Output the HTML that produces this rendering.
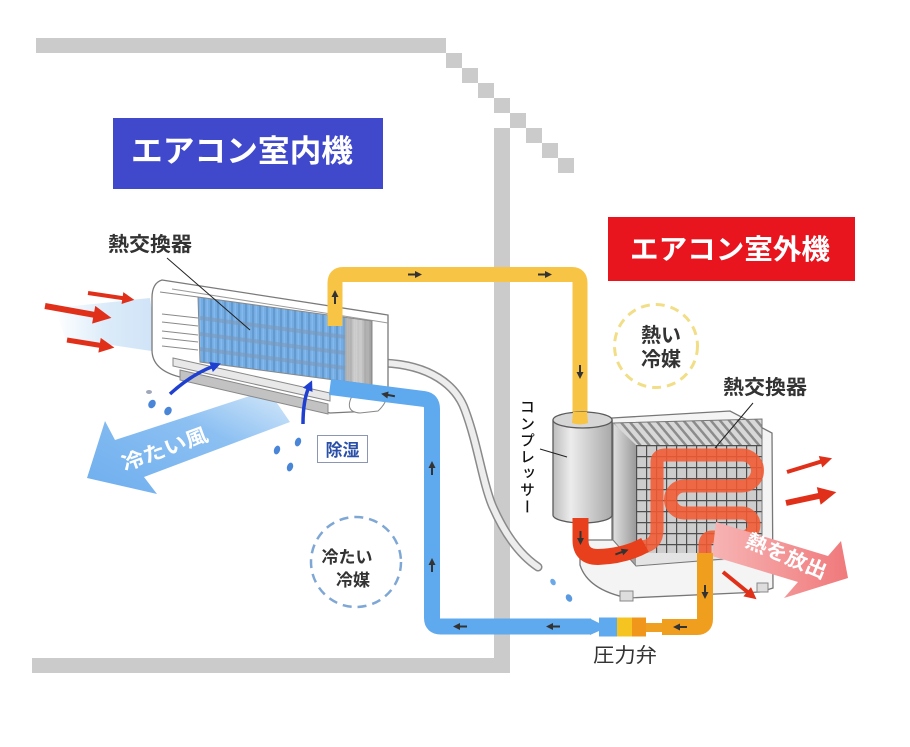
<!DOCTYPE html>
<html><head><meta charset="utf-8">
<style>
html,body{margin:0;padding:0;background:#fff;}
#wrap{position:relative;width:910px;height:747px;overflow:hidden;background:#fff;font-family:"Liberation Sans","Noto Sans CJK JP",sans-serif;}
svg{position:absolute;left:0;top:0;}
.vt{position:absolute;left:518px;top:399px;writing-mode:vertical-rl;font-size:15px;letter-spacing:1.6px;color:#111;font-weight:500;font-family:"Liberation Sans","Noto Sans CJK JP",sans-serif;line-height:16px;}
</style></head><body>
<div id="wrap">
<svg width="910" height="747" viewBox="0 0 910 747" font-family="Liberation Sans, Noto Sans CJK JP, sans-serif">
<defs>
  <g id="pa"><path d="M-7,0 H2" stroke="#333" stroke-width="2"/><path d="M0,-3.5 L7,0 L0,3.5Z" fill="#333"/></g>
  <marker id="rh" viewBox="0 0 10 10" refX="3" refY="5" markerWidth="3.2" markerHeight="3" orient="auto"><path d="M0,0 L10,5 L0,10z" fill="#e0301a"/></marker>
  <marker id="bh" viewBox="0 0 10 10" refX="3" refY="5" markerWidth="3" markerHeight="3" orient="auto"><path d="M0,0 L10,5 L0,10z" fill="#1f3fd0"/></marker>
  <linearGradient id="haze" x1="0" y1="0" x2="1" y2="0"><stop offset="0" stop-color="#dcecfa" stop-opacity="0"/><stop offset="0.5" stop-color="#dbebf9"/><stop offset="1" stop-color="#cfe3f7"/></linearGradient>
  <linearGradient id="wind" x1="0" y1="1" x2="1" y2="0"><stop offset="0" stop-color="#6eaeee"/><stop offset="0.6" stop-color="#8cc0f2"/><stop offset="1" stop-color="#d8eafa"/></linearGradient>
  <linearGradient id="pink" x1="0" y1="0" x2="1" y2="0"><stop offset="0" stop-color="#f7b4b4"/><stop offset="1" stop-color="#f0797b"/></linearGradient>
  <linearGradient id="comp" x1="0" y1="0" x2="1" y2="0"><stop offset="0" stop-color="#bdbdbd"/><stop offset="0.3" stop-color="#ececec"/><stop offset="1" stop-color="#a9a9a9"/></linearGradient>
  <linearGradient id="side" x1="0" y1="0" x2="1" y2="0"><stop offset="0" stop-color="#e0e0e0"/><stop offset="1" stop-color="#9a9a9a"/></linearGradient>
  <linearGradient id="endp" x1="0" y1="0" x2="1" y2="0"><stop offset="0" stop-color="#a0a0a0"/><stop offset="0.5" stop-color="#d6d6d6"/><stop offset="1" stop-color="#9a9a9a"/></linearGradient>
  <pattern id="fin" width="7" height="10" patternUnits="userSpaceOnUse"><rect width="7" height="10" fill="#b4b4b4"/><rect x="0" width="2" height="10" fill="#7a7a7a"/><rect x="3.5" width="1.5" height="10" fill="#e0e0e0"/></pattern>
  <pattern id="hatch" width="7" height="7" patternUnits="userSpaceOnUse" patternTransform="rotate(-40)"><rect width="7" height="7" fill="#d8d8d8"/><rect width="2.5" height="7" fill="#8c8c8c"/></pattern>
  <pattern id="grid" x="636" y="445" width="10" height="11" patternUnits="userSpaceOnUse"><rect width="10" height="11" fill="#cdcdcd"/><path d="M0.6,0 V11 M0,0.6 H10" stroke="#4e4e4e" stroke-width="1.2"/></pattern>
  <clipPath id="hx"><polygon points="198,297 372,321 372,385 200,362"/></clipPath>
</defs>

<!-- walls -->
<g fill="#cbcbcb">
  <rect x="36" y="38" width="410" height="15"/>
  <rect x="446" y="53" width="16" height="15"/>
  <rect x="462" y="68" width="16" height="15"/>
  <rect x="478" y="83" width="16" height="15"/>
  <rect x="494" y="98" width="16" height="15"/>
  <rect x="510" y="113" width="16" height="15"/>
  <rect x="526" y="128" width="16" height="15"/>
  <rect x="542" y="143" width="16" height="15"/>
  <rect x="558" y="158" width="16" height="15"/>
  <rect x="494" y="128" width="16" height="545"/>
  <rect x="32" y="658" width="478" height="15"/>
</g>

<!-- labels -->
<rect x="113" y="118" width="270" height="71" fill="#4049cc"/>
<text x="242" y="162" font-size="31" font-weight="bold" fill="#fff" text-anchor="middle" textLength="222" lengthAdjust="spacingAndGlyphs">エアコン室内機</text>
<rect x="608" y="217" width="247" height="64" fill="#e8141e"/>
<text x="730" y="259" font-size="28" font-weight="bold" fill="#fff" text-anchor="middle" textLength="200" lengthAdjust="spacingAndGlyphs">エアコン室外機</text>

<!-- haze & left red arrows -->
<polygon points="55,308 150,298 158,352 65,338" fill="url(#haze)"/>
<line x1="88" y1="293" x2="126" y2="298.6" stroke="#e0301a" stroke-width="4" marker-end="url(#rh)"/>
<line x1="45" y1="306" x2="99" y2="315.7" stroke="#e0301a" stroke-width="6" marker-end="url(#rh)"/>
<line x1="67" y1="340" x2="104" y2="346" stroke="#e0301a" stroke-width="5" marker-end="url(#rh)"/>

<!-- cold wind arrow -->
<polygon points="87,478 105,421 115,440 268,390 290,422 144,477 157,494" fill="url(#wind)"/>
<text x="165" y="456" font-size="20" font-weight="bold" fill="#fff" text-anchor="middle" transform="rotate(-20 165 450)" textLength="90" lengthAdjust="spacingAndGlyphs">冷たい風</text>

<!-- drain hose -->
<path d="M384,363 C430,365 456,385 465,410 C478,445 482,480 492,505 C505,535 520,555 538,567" fill="none" stroke="#8a8a8a" stroke-width="9" stroke-linecap="round"/>
<path d="M384,363 C430,365 456,385 465,410 C478,445 482,480 492,505 C505,535 520,555 538,567" fill="none" stroke="#ededed" stroke-width="6" stroke-linecap="round"/>

<!-- indoor unit -->
<path d="M162,280 L388,315 L388,386 Q388,396 378,402 L372,411 L330,413 L180,377 Q152,370 152,350 L152,298 Q152,283 162,280 Z" fill="#fff" stroke="#7a7a7a" stroke-width="1.3"/>
<path d="M172,289 L388,323" stroke="#9a9a9a" stroke-width="1" fill="none"/>
<g stroke="#8a8a8a" stroke-width="1">
  <line x1="160" y1="292" x2="198" y2="297"/>
  <line x1="162" y1="314" x2="198" y2="318"/>
  <line x1="162" y1="322" x2="198" y2="326"/>
  <line x1="162" y1="331" x2="198" y2="335"/>
  <line x1="162" y1="338" x2="198" y2="342"/>
  <line x1="162" y1="346" x2="198" y2="350"/>
</g>
<g clip-path="url(#hx)">
  <rect x="195" y="290" width="180" height="100" fill="url(#fin)"/>
  <polygon points="343,315 372,319 372,390 343,390" fill="url(#endp)" opacity="0.85"/>
  <polygon points="198,297 345,316 345,384 200,362" fill="#5aa8f5" opacity="0.7"/>
  <g stroke="#7e98b4" stroke-width="4" opacity="0.55">
    <line x1="200" y1="318" x2="345" y2="337"/>
    <line x1="200" y1="334" x2="345" y2="353"/>
    <line x1="200" y1="349" x2="345" y2="368"/>
  </g>
</g>
<polygon points="198,297 372,321 372,385 200,362" fill="none" stroke="#888" stroke-width="1"/>
<polygon points="173,358 330,393 330,401 173,366" fill="#e8e8e8" stroke="#888" stroke-width="1"/>
<polygon points="180,370 328,404 328,414 180,380" fill="#c2c2c2" stroke="#888" stroke-width="1"/>
<path d="M352,396 Q344,412 360,413 L378,411 Q388,402 387,392" fill="#fff" stroke="#888" stroke-width="1"/>

<!-- blue curved arrows -->
<path d="M170,394 Q192,374 214,366" fill="none" stroke="#1f3fd0" stroke-width="3.5" marker-end="url(#bh)"/>
<path d="M303,424 Q303,400 309,387" fill="none" stroke="#1f3fd0" stroke-width="3.5" marker-end="url(#bh)"/>

<!-- drops -->
<g fill="#4a86d8">
  <ellipse cx="152" cy="404" rx="3.5" ry="4.5" transform="rotate(30 152 404)"/>
  <ellipse cx="168" cy="411" rx="3.5" ry="4.5" transform="rotate(30 168 411)"/>
  <ellipse cx="277" cy="450" rx="3" ry="4.5" transform="rotate(20 277 450)"/>
  <ellipse cx="298" cy="442" rx="3" ry="4.5" transform="rotate(20 298 442)"/>
  <ellipse cx="290" cy="467" rx="3" ry="4.5" transform="rotate(20 290 467)"/>
  <ellipse cx="553" cy="582" rx="2.5" ry="3.5" fill="#6aa8e8" transform="rotate(-30 553 582)"/>
  <ellipse cx="569" cy="598" rx="3" ry="4" fill="#5a9ae0" transform="rotate(-30 569 598)"/>
</g>
<ellipse cx="149" cy="392" rx="3" ry="2" fill="#a0a8b8"/>

<!-- 除湿 -->
<rect x="317.5" y="435.5" width="50" height="27" fill="#fff" stroke="#8a96b4" stroke-width="1"/>
<text x="342.5" y="456" font-size="17" font-weight="bold" fill="#2a4fa8" text-anchor="middle">除湿</text>

<!-- indoor 熱交換器 label -->
<text x="108" y="251" font-size="20" font-weight="bold" fill="#333" textLength="84" lengthAdjust="spacingAndGlyphs">熱交換器</text>
<line x1="167" y1="258" x2="250" y2="330" stroke="#222" stroke-width="1"/>

<!-- outdoor casing -->
<path d="M612,418 L730,411 L772,433 L773,588 L760,592 L628,598 Q588,590 580,565 L580,540 L612,540 Z" fill="#f4f4f4" stroke="#777" stroke-width="1.3"/>
<polygon points="613,423 762,419 762,556 636,566 613,540" fill="#c4c4c4"/>
<polygon points="613,423 762,419 762,445 636,445" fill="url(#hatch)"/>
<polygon points="613,423 636,445 636,566 613,540" fill="url(#side)"/>
<rect x="636" y="445" width="126" height="108" fill="url(#grid)"/>
<polygon points="636,553 762,553 762,558 636,566" fill="#e4e4e4"/>
<polygon points="613,423 762,419 762,556 636,566 613,540" fill="none" stroke="#777" stroke-width="1"/>
<rect x="620" y="591" width="13" height="10" fill="#ddd" stroke="#888" stroke-width="1"/>
<rect x="757" y="583" width="11" height="9" fill="#ddd" stroke="#888" stroke-width="1"/>

<!-- coil -->
<path d="M642,547 Q657,545 657,530 L657,462 Q657,455 665,455 L742,455 A15.5,15.5 0 0 1 742,486 L684,486 A13.5,13.5 0 0 0 684,513 L742,513 A12,12 0 0 1 742,537 L712,537 Q705,537 705,546 L705,556" fill="none" stroke="#f45a32" stroke-width="13" stroke-linejoin="round" opacity="0.88"/>

<!-- outdoor 熱交換器 label -->
<text x="723" y="394" font-size="20" font-weight="bold" fill="#333" textLength="84" lengthAdjust="spacingAndGlyphs">熱交換器</text>
<line x1="753" y1="403" x2="715" y2="448" stroke="#222" stroke-width="1"/>

<!-- pink arrow -->
<polygon points="716,522 828,556 841,541 848,578 784,598 798,582 712,556" fill="url(#pink)"/>
<text x="786" y="563" font-size="20" font-weight="bold" fill="#fff" text-anchor="middle" transform="rotate(23 786 557)" textLength="86" lengthAdjust="spacingAndGlyphs">熱を放出</text>

<!-- right red arrows -->
<line x1="787" y1="472" x2="824" y2="460.7" stroke="#e0301a" stroke-width="4" marker-end="url(#rh)"/>
<line x1="786" y1="503" x2="824" y2="494.8" stroke="#e0301a" stroke-width="6" marker-end="url(#rh)"/>
<line x1="723" y1="572" x2="750" y2="594" stroke="#e0301a" stroke-width="4" marker-end="url(#rh)"/>

<!-- pipes -->
<path d="M330,387 L424,399 Q432,400 432,409 L432,618 Q432,626.5 441,626.5 L591,626.5" fill="none" stroke="#5fa9ee" stroke-width="16" stroke-linejoin="round"/>
<path d="M335,326 L335,283 Q335,274.5 343,274.5 L572,274.5 Q580,274.5 580,283 L580,424" fill="none" stroke="#f8c446" stroke-width="15" stroke-linejoin="round"/>

<!-- compressor -->
<rect x="553" y="420" width="59" height="95" fill="url(#comp)"/>
<path d="M553,420 L553,515 A29.5,8 0 0 0 612,515 L612,420" fill="url(#comp)" stroke="#5a5a5a" stroke-width="1.3"/>
<ellipse cx="582.5" cy="420" rx="29.5" ry="8" fill="#d6d6d6" stroke="#5a5a5a" stroke-width="1.3"/>
<path d="M573,412 L587,412 L588,423 Q580,426 572,423 Z" fill="#f8c446"/>
<line x1="540" y1="449" x2="567" y2="457" stroke="#222" stroke-width="1"/>

<!-- red pipe -->
<path d="M580.5,518 L580.5,540 Q580.5,557 598,557 Q625,556 645,545" fill="none" stroke="#e8401c" stroke-width="16"/>

<!-- orange pipe & valve -->
<path d="M662,627 L697,627 Q705,627 705,619 L705,553" fill="none" stroke="#f09e1e" stroke-width="16" stroke-linejoin="round"/>
<polygon points="590,618.5 599,623 599,631 590,635" fill="#5fa9ee"/>
<rect x="599" y="617.5" width="18" height="19" fill="#5fa9ee"/>
<rect x="617" y="617.5" width="15" height="19" fill="#f5c420"/>
<rect x="632" y="617.5" width="14" height="19" fill="#f0961a"/>
<rect x="646" y="623" width="16" height="9" fill="#f0a020"/>
<text x="593" y="662" font-size="20" fill="#333" textLength="64" lengthAdjust="spacingAndGlyphs">圧力弁</text>

<!-- pipe arrows -->
<use href="#pa" transform="translate(335,297) rotate(-90)"/>
<use href="#pa" transform="translate(415,274.5)"/>
<use href="#pa" transform="translate(545,274.5)"/>
<use href="#pa" transform="translate(580,372) rotate(90)"/>
<use href="#pa" transform="translate(388,395) rotate(190)"/>
<use href="#pa" transform="translate(432,468) rotate(-90)"/>
<use href="#pa" transform="translate(432,565) rotate(-90)"/>
<use href="#pa" transform="translate(460,626.5) rotate(180)"/>
<use href="#pa" transform="translate(553,626.5) rotate(180)"/>
<use href="#pa" transform="translate(580.5,538) rotate(90)"/>
<use href="#pa" transform="translate(622,552) rotate(-20)"/>
<use href="#pa" transform="translate(705,592) rotate(90)"/>
<use href="#pa" transform="translate(680,627) rotate(180)"/>

<!-- circles -->
<circle cx="656" cy="346" r="41.5" fill="none" stroke="#f2de86" stroke-width="3" stroke-dasharray="9 6"/>
<text x="661" y="342" font-size="20" font-weight="bold" fill="#333" text-anchor="middle">熱い</text>
<text x="661" y="366" font-size="20" font-weight="bold" fill="#333" text-anchor="middle">冷媒</text>
<circle cx="356" cy="562" r="45" fill="none" stroke="#7fa7d6" stroke-width="2.5" stroke-dasharray="9 6"/>
<text x="347" y="563" font-size="17" font-weight="bold" fill="#333" text-anchor="middle">冷たい</text>
<text x="353" y="586" font-size="17" font-weight="bold" fill="#333" text-anchor="middle">冷媒</text>
</svg>
<div class="vt">コンプレッサー</div>
</div>
</body></html>
